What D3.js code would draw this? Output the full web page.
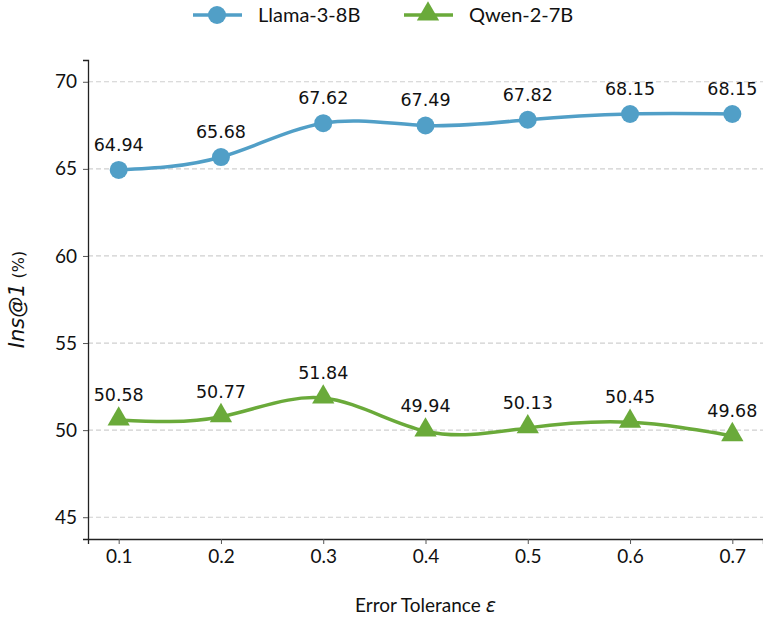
<!DOCTYPE html>
<html>
<head>
<meta charset="utf-8">
<script src="https://cdn.jsdelivr.net/npm/d3@7"></script>
<style>
  body { margin: 0; background: #fff; }
  svg { display: block; }
</style>
</head>
<body>
<div id="chart"></div>
<script>
var tolerances = [0.1, 0.2, 0.3, 0.4, 0.5, 0.6, 0.7];
var llamaValues = [64.94, 65.68, 67.62, 67.49, 67.82, 68.15, 68.15];
var qwenValues = [50.58, 50.77, 51.84, 49.94, 50.13, 50.45, 49.68];
var yTicks = [45, 50, 55, 60, 65, 70];
var seriesNames = ['Llama-3-8B', 'Qwen-2-7B'];

var width = 763, height = 621;
var margin = {top: 60, right: 0, bottom: 82, left: 88};
var tickFont = 'Lato, "Open Sans", sans-serif';
var blue = '#519fc7', green = '#6aaa3a';

var svg = d3.select('#chart').append('svg')
    .attr('width', width)
    .attr('height', height);

var x = d3.scaleLinear().domain([0.07, 0.73]).range([margin.left, width - margin.right]);
var y = d3.scaleLinear().domain([43.75, 71.25]).range([height - margin.bottom, margin.top]);

// grid
svg.append('g').selectAll('line').data(yTicks).enter().append('line')
    .attr('x1', margin.left).attr('x2', width - margin.right)
    .attr('y1', function(d) { return y(d); })
    .attr('y2', function(d) { return y(d); })
    .attr('stroke', '#cfcfcf')
    .attr('stroke-width', 1.2)
    .attr('stroke-dasharray', '5,3');

// axes
var xAxis = svg.append('g')
    .attr('transform', 'translate(0,' + (height - margin.bottom) + ')')
    .call(d3.axisBottom(x).tickValues(tolerances).tickFormat(d3.format('.1f')).tickSize(5).tickPadding(6));
var yAxis = svg.append('g')
    .attr('transform', 'translate(' + margin.left + ',0)')
    .call(d3.axisLeft(y).tickValues(yTicks).tickSize(5).tickPadding(6));

[xAxis, yAxis].forEach(function(ax) {
    ax.select('.domain').attr('stroke', '#222').attr('stroke-width', 1.3);
    ax.selectAll('.tick line').attr('stroke', '#555').attr('stroke-width', 1);
    ax.selectAll('.tick text').attr('font-family', tickFont).attr('font-size', 19).attr('fill', '#111');
});

// lines
var line = d3.line()
    .x(function(d, i) { return x(tolerances[i]); })
    .y(function(d) { return y(d); })
    .curve(d3.curveNatural);

svg.append('path').datum(llamaValues)
    .attr('d', line).attr('fill', 'none').attr('stroke', blue).attr('stroke-width', 3.5);
svg.append('path').datum(qwenValues)
    .attr('d', line).attr('fill', 'none').attr('stroke', green).attr('stroke-width', 3.5);

var triangle = d3.symbol().type(d3.symbolTriangle).size(215);

svg.append('g').selectAll('circle').data(llamaValues).enter().append('circle')
    .attr('cx', function(d, i) { return x(tolerances[i]); })
    .attr('cy', function(d) { return y(d); })
    .attr('r', 9)
    .attr('fill', blue);

svg.append('g').selectAll('path').data(qwenValues).enter().append('path')
    .attr('d', triangle)
    .attr('transform', function(d, i) { return 'translate(' + x(tolerances[i]) + ',' + (y(d) - 1) + ')'; })
    .attr('fill', green);

// value labels
function addLabels(values) {
    svg.append('g').selectAll('text').data(values).enter().append('text')
        .attr('x', function(d, i) { return x(tolerances[i]); })
        .attr('y', function(d) { return y(d) - 19; })
        .attr('text-anchor', 'middle')
        .attr('font-family', '"DejaVu Sans", sans-serif')
        .attr('font-size', 17.5)
        .attr('fill', '#111')
        .text(function(d) { return d.toFixed(2); });
}
addLabels(llamaValues);
addLabels(qwenValues);

// axis titles
svg.append('text')
    .attr('x', (margin.left + width - margin.right) / 2)
    .attr('y', 612)
    .attr('text-anchor', 'middle')
    .attr('font-family', tickFont)
    .attr('font-size', 19)
    .attr('fill', '#111')
    .html('Error Tolerance <tspan font-style="italic" font-family="DejaVu Sans">ε</tspan>');

var yl = svg.append('text')
    .attr('transform', 'translate(24,' + ((margin.top + height - margin.bottom) / 2) + ') rotate(-90)')
    .attr('text-anchor', 'middle')
    .attr('font-family', '"DejaVu Sans", sans-serif')
    .attr('fill', '#111');
yl.append('tspan').attr('font-style', 'italic').attr('font-size', 21).text('Ins@1');
yl.append('tspan').attr('font-size', 16).attr('dx', 5).text('(%)');

// legend
var legendItems = [
    {name: seriesNames[0], color: blue, x: 193, shape: 'circle'},
    {name: seriesNames[1], color: green, x: 404, shape: 'triangle'}
];
var lg = svg.append('g').selectAll('g').data(legendItems).enter().append('g')
    .attr('transform', function(d) { return 'translate(' + d.x + ',15)'; });
lg.append('line').attr('x1', 0).attr('x2', 49).attr('stroke', function(d) { return d.color; }).attr('stroke-width', 3.5);
lg.filter(function(d) { return d.shape === 'circle'; }).append('circle')
    .attr('cx', 24).attr('r', 9).attr('fill', function(d) { return d.color; });
lg.filter(function(d) { return d.shape === 'triangle'; }).append('path')
    .attr('d', triangle).attr('transform', 'translate(24,-1)').attr('fill', function(d) { return d.color; });
lg.append('text').attr('x', 65).attr('y', 7)
    .attr('font-family', tickFont).attr('font-size', 20).attr('fill', '#111')
    .text(function(d) { return d.name; });
</script>
</body>
</html>
